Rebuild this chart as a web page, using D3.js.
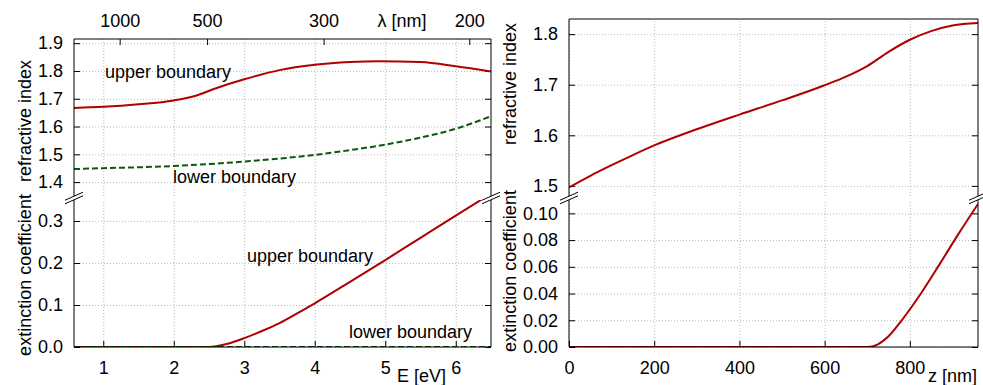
<!DOCTYPE html>
<html>
<head>
<meta charset="utf-8">
<script src="https://cdn.jsdelivr.net/npm/d3@7"></script>
<style>
  body { margin: 0; background: #fff; }
  svg { display: block; font-family: "Liberation Sans", Arial, sans-serif; }
  .grid line { stroke: #b8b8b8; stroke-dasharray: 1,2; }
  .grid path { display: none; }
  .ax path { display: none; }
  .ax line { stroke: #000; }
  .ax text { font-size: 18px; fill: #000; font-family: "Liberation Sans", Arial, sans-serif; }
  .lbl { font-size: 18px; fill: #000; }
</style>
</head>
<body>
<svg id="chart" width="983" height="385"></svg>
<script>
  // --- left: optical constants vs photon energy ---
  const nUpperE   = [0.585, 1.0, 1.5, 2.0, 2.3, 2.6, 3.0, 3.5, 4.0, 4.5, 4.9, 5.5, 6.0, 6.5];
  const nUpperVal = [1.667, 1.671, 1.680, 1.694, 1.710, 1.738, 1.770, 1.803, 1.822, 1.832, 1.835, 1.832, 1.817, 1.798];

  const nLowerE   = [0.585, 1.0, 2.0, 3.0, 4.0, 4.5, 5.0, 5.5, 6.0, 6.5];
  const nLowerVal = [1.447, 1.450, 1.458, 1.474, 1.498, 1.515, 1.535, 1.560, 1.592, 1.637];

  const kUpperE   = [0.585, 1.5, 2.0, 2.5, 2.75, 3.0, 3.25, 3.5, 3.75, 4.0, 4.5, 5.0, 5.5, 6.0, 6.5];
  const kUpperVal = [0, 0, 0, 0, 0.007, 0.021, 0.038, 0.057, 0.080, 0.104, 0.155, 0.207, 0.260, 0.313, 0.365];

  const kLowerE   = [0.585, 6.5];
  const kLowerVal = [0, 0];

  // --- right: profile vs depth ---
  const nZ    = [0, 50, 100, 150, 200, 300, 400, 500, 600, 650, 700, 750, 800, 850, 900, 960];
  const nZVal = [1.497, 1.520, 1.541, 1.561, 1.580, 1.612, 1.641, 1.669, 1.699, 1.716, 1.737, 1.765, 1.789, 1.806, 1.817, 1.822];

  const kZ    = [0, 700, 725, 750, 781, 826, 870, 915, 960];
  const kZVal = [0, 0, 0.002, 0.008, 0.020, 0.040, 0.062, 0.085, 0.107];

  // ticks
  const eTicks = [1, 2, 3, 4, 5, 6];
  const lambdaTicks = [1000, 500, 300, 200];
  const zTicks = [0, 200, 400, 600, 800];
  const nLeftTicks = [1.4, 1.5, 1.6, 1.7, 1.8, 1.9];
  const kLeftTicks = [0, 0.1, 0.2, 0.3];
  const nRightTicks = [1.5, 1.6, 1.7, 1.8];
  const kRightTicks = [0, 0.02, 0.04, 0.06, 0.08, 0.10];

  const RED = "#b00000", GREEN = "#0b5a0b";

  const svg = d3.select("#chart");

  const xE = d3.scaleLinear().domain([0.585, 6.5]).range([74, 491]);
  const xZ = d3.scaleLinear().domain([0, 960]).range([569, 978]);

  const yNL = d3.scaleLinear().domain([1.35, 1.915]).range([196, 39]);
  const yKL = d3.scaleLinear().domain([0, 0.35]).range([347, 200]);
  const yNR = d3.scaleLinear().domain([1.48, 1.83]).range([196, 19]);
  const yKR = d3.scaleLinear().domain([0, 0.11]).range([347, 200]);

  let clipId = 0;

  function panel(x, y, yTicks, yFmt, xTicks) {
    const [x0, x1] = x.range();
    const [yb, yt] = y.range();
    const g = svg.append("g");

    // grid
    g.append("g").attr("class", "grid")
      .attr("transform", `translate(${x0},0)`)
      .call(d3.axisLeft(y).tickValues(yTicks).tickSize(-(x1 - x0)).tickFormat(""));
    g.append("g").attr("class", "grid")
      .attr("transform", `translate(0,${yb})`)
      .call(d3.axisBottom(x).tickValues(xTicks).tickSize(-(yb - yt)).tickFormat(""));

    // y ticks, inward on both sides
    g.append("g").attr("class", "ax")
      .attr("transform", `translate(${x0},0)`)
      .call(d3.axisLeft(y).tickValues(yTicks).tickFormat(yFmt).tickSize(-6).tickPadding(11));
    g.append("g").attr("class", "ax")
      .attr("transform", `translate(${x1},0)`)
      .call(d3.axisRight(y).tickValues(yTicks).tickFormat("").tickSize(-6));

    const id = "clip" + (clipId++);
    g.append("clipPath").attr("id", id)
      .append("rect").attr("x", x0).attr("y", yt).attr("width", x1 - x0).attr("height", yb - yt);
    g.clip = id;
    return g;
  }

  function curve(g, x, y, xs, ys, color, dashed) {
    const line = d3.line().x(d => x(d[0])).y(d => y(d[1])).curve(d3.curveMonotoneX);
    g.append("path")
      .attr("clip-path", `url(#${g.clip})`)
      .attr("d", line(d3.zip(xs, ys)))
      .attr("fill", "none")
      .attr("stroke", color)
      .attr("stroke-width", 2)
      .attr("stroke-dasharray", dashed ? "6,3" : null);
  }

  function frame(x, yTop, yBot, yBreak) {
    const [x0, x1] = x.range();
    svg.append("path")
      .attr("d", `M${x0},${yBot}V${yTop}H${x1}V${yBot}Z`)
      .attr("fill", "none").attr("stroke", "#000");
    // broken axis marks
    [x0, x1].forEach(cx => {
      const w = 9, h = 4, s = 1.8;
      svg.append("path")
        .attr("d", `M${cx - w},${yBreak + h - s}L${cx + w},${yBreak - h - s}L${cx + w},${yBreak - h + s}L${cx - w},${yBreak + h + s}Z`)
        .attr("fill", "#fff");
      svg.append("path")
        .attr("d", `M${cx - w},${yBreak + h - s}L${cx + w},${yBreak - h - s}M${cx - w},${yBreak + h + s}L${cx + w},${yBreak - h + s}`)
        .attr("stroke", "#000").attr("fill", "none");
    });
  }

  const f1 = d3.format(".1f"), f2 = d3.format(".2f"), fi = d3.format("d");

  // ---- left panels ----
  const gNL = panel(xE, yNL, nLeftTicks, f1, eTicks);
  curve(gNL, xE, yNL, nUpperE, nUpperVal, RED, false);
  curve(gNL, xE, yNL, nLowerE, nLowerVal, GREEN, true);

  const gKL = panel(xE, yKL, kLeftTicks, f1, eTicks);
  curve(gKL, xE, yKL, kUpperE, kUpperVal, RED, false);
  curve(gKL, xE, yKL, kLowerE, kLowerVal, GREEN, true);

  gKL.append("g").attr("class", "ax")
    .attr("transform", "translate(0,347)")
    .call(d3.axisBottom(xE).tickValues(eTicks).tickFormat(fi).tickSize(-6).tickPadding(14));

  // top wavelength axis (E = 1239.84 / lambda)
  const lamScale = v => xE(1239.84 / v);
  const topAx = svg.append("g").attr("class", "ax").attr("transform", "translate(0,39)");
  topAx.selectAll("line").data(lambdaTicks).join("line")
    .attr("x1", lamScale).attr("x2", lamScale).attr("y1", 0).attr("y2", 6);
  topAx.selectAll("text").data(lambdaTicks).join("text")
    .attr("x", lamScale).attr("y", -12).attr("text-anchor", "middle").text(d => d);

  frame(xE, 39, 347, 198);

  // ---- right panels ----
  const gNR = panel(xZ, yNR, nRightTicks, f1, zTicks);
  curve(gNR, xZ, yNR, nZ, nZVal, RED, false);

  const gKR = panel(xZ, yKR, kRightTicks, f2, zTicks);
  curve(gKR, xZ, yKR, kZ, kZVal, RED, false);

  gKR.append("g").attr("class", "ax")
    .attr("transform", "translate(0,347)")
    .call(d3.axisBottom(xZ).tickValues(zTicks).tickFormat(fi).tickSize(-6).tickPadding(14));

  frame(xZ, 19, 347, 198);

  // ---- labels ----
  const txt = (x, y, s, anchor) => svg.append("text").attr("class", "lbl")
    .attr("x", x).attr("y", y).attr("text-anchor", anchor || "start").text(s);

  txt(105, 78, "upper boundary");
  txt(173, 183, "lower boundary");
  txt(247, 262, "upper boundary");
  txt(349, 338, "lower boundary");

  txt(402, 27, "λ [nm]", "middle");
  txt(446, 382, "E [eV]", "end");
  txt(977, 382, "z [nm]", "end");

  const vtxt = (x, y, s) => svg.append("text").attr("class", "lbl")
    .attr("transform", `translate(${x},${y}) rotate(-90)`)
    .attr("text-anchor", "middle").text(s);

  vtxt(31, 121, "refractive index");
  vtxt(31, 275, "extinction coefficient");
  vtxt(516, 84, "refractive index");
  vtxt(516, 271, "extinction coefficient");
</script>
</body>
</html>
